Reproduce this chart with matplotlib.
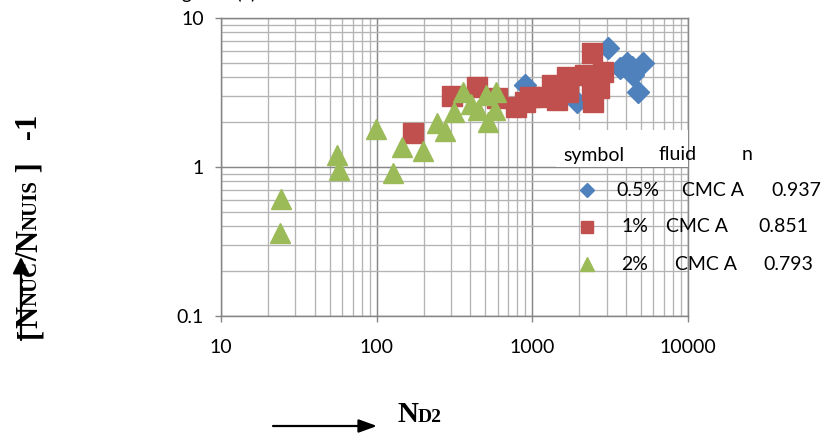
import matplotlib
matplotlib.use("Agg")
import matplotlib.pyplot as plt
from matplotlib.lines import Line2D
from matplotlib.patches import FancyArrowPatch, Rectangle
from matplotlib.ticker import FixedLocator, FixedFormatter, LogLocator, NullFormatter

# ---------------- data ----------------
blue_x = [896, 1926, 3075, 3655, 4035, 4345, 4450, 5157, 4790]
blue_y = [3.55, 2.74, 6.26, 4.6, 4.97, 4.71, 4.14, 4.97, 3.2]

red_x = [172, 303, 439, 593, 785, 896, 962, 1175, 1330, 1432, 1660, 1700,
         2177, 2404, 2404, 2460, 2852, 2700]
red_y = [1.70, 3.01, 3.43, 2.89, 2.54, 2.74, 2.97, 2.96, 3.55, 2.82, 4.04, 3.2,
         4.14, 5.79, 3.29, 2.74, 4.36, 3.37]

green_x = [24.3, 24.0, 55.8, 56.9, 99.6, 126.7, 145, 197, 244, 275, 315, 358,
           405, 450, 504, 521, 581, 573]
green_y = [0.61, 0.36, 1.20, 0.955, 1.80, 0.91, 1.36, 1.29, 1.98, 1.75, 2.33, 3.20,
           2.63, 2.41, 3.04, 2.01, 3.20, 2.41]

x_ticks = [10, 100, 1000, 10000]
x_tick_labels = ["10", "100", "1000", "10000"]
y_ticks = [0.1, 1, 10]
y_tick_labels = ["0.1", "1", "10"]

legend_header = ["symbol", "fluid", "n"]
legend_conc = ["0.5%", "1%", "2%"]
legend_fluid = ["CMC A", "CMC A", "CMC A"]
legend_n = ["0.937", "0.851", "0.793"]

BLUE = "#4F81BD"
RED = "#C0504D"
GREEN = "#9BBB59"

W, H = 823, 434
fig = plt.figure(figsize=(W / 100, H / 100), dpi=100)


def fx(px):
    return px / W


def fy(py):
    return 1 - py / H


ax = fig.add_axes([fx(221), fy(316), fx(688) - fx(221), fy(18) - fy(316)])
ax.set_xscale("log")
ax.set_yscale("log")
ax.set_xlim(10, 10000)
ax.set_ylim(0.1, 10)

ax.xaxis.set_major_locator(FixedLocator(x_ticks))
ax.xaxis.set_major_formatter(FixedFormatter(x_tick_labels))
ax.yaxis.set_major_locator(FixedLocator(y_ticks))
ax.yaxis.set_major_formatter(FixedFormatter(y_tick_labels))
ax.xaxis.set_minor_locator(LogLocator(base=10, subs=range(2, 10), numticks=20))
ax.yaxis.set_minor_locator(LogLocator(base=10, subs=range(2, 10), numticks=20))
ax.xaxis.set_minor_formatter(NullFormatter())
ax.yaxis.set_minor_formatter(NullFormatter())

ax.grid(True, which="major", color="#868686", lw=1.05)
ax.grid(True, which="minor", color="#b4b4b4", lw=0.95)
ax.set_axisbelow(True)
for s in ax.spines.values():
    s.set_color("#868686")
    s.set_linewidth(1.05)
ax.tick_params(axis="both", which="major", direction="out", length=4.3, width=1.0,
               color="#868686", labelsize=14)
ax.tick_params(axis="x", which="major", pad=12)
ax.tick_params(axis="y", which="major", pad=8)
ax.tick_params(axis="both", which="minor", length=0)
for lab in ax.get_xticklabels() + ax.get_yticklabels():
    lab.set_fontfamily("Lato")

ax.plot(blue_x, blue_y, ls="none", marker="D", ms=11.5, color=BLUE, mec=BLUE, zorder=3)
ax.plot(red_x, red_y, ls="none", marker="s", ms=14.0, color=RED, mec=RED, zorder=4)
ax.plot(green_x, green_y, ls="none", marker="^", ms=14.5, color=GREEN, mec=GREEN, zorder=5)

# ---------------- legend table ----------------
fig.add_artist(Rectangle((fx(556), fy(167)), fx(688) - fx(556), fy(130) - fy(167),
                         transform=fig.transFigure, facecolor="white", edgecolor="none",
                         zorder=2))
tfont = dict(family="Lato", fontsize=14, ha="center", va="center", zorder=6)
for txt, px in zip(legend_header, [594, 678, 747]):
    fig.text(fx(px), fy(155), txt, **tfont)

row_y = [190, 227, 264]
conc_x = [638, 635, 635]
fluid_x = [713, 697, 706]
n_x = [796, 783, 788]
markers = [("D", 7.0, BLUE), ("s", 9.0, RED), ("^", 9.5, GREEN)]
for i in range(3):
    m, ms, c = markers[i]
    fig.add_artist(Line2D([fx(587)], [fy(row_y[i])], transform=fig.transFigure,
                          marker=m, ms=ms, color=c, mec=c, ls="none", zorder=6))
    fig.text(fx(conc_x[i]), fy(row_y[i]), legend_conc[i], **tfont)
    fig.text(fx(fluid_x[i]), fy(row_y[i]), legend_fluid[i], **tfont)
    fig.text(fx(n_x[i]), fy(row_y[i]), legend_n[i], **tfont)

# ---------------- top clipped caption (cut off in the reference too) ----------------
fig.text(fx(166), 1 + 1 / H, "Figure 4(c)", family="Lato", fontsize=14,
         ha="left", va="baseline")

# ---------------- axis labels (Times bold) ----------------
serif = "Liberation Serif"
fig.canvas.draw()
renderer = fig.canvas.get_renderer()

# y label built bottom-to-top
ypieces = [("[", 22), ("N", 22), ("NUC", 15), ("/", 22), ("N", 22), ("NUIS", 15),
           (" ]", 22), ("   -1", 22)]
cur = H - 338  # display y (pixels from bottom)
for s, size in ypieces:
    t = fig.text(fx(37), cur / H, s, family=serif, weight="bold", fontsize=size,
                 rotation=90, rotation_mode="anchor", ha="left", va="baseline")
    bb = t.get_window_extent(renderer)
    cur = bb.y1

# x label
cur = 397
for s, size in [("N", 21), ("D2", 14)]:
    t = fig.text(cur / W, fy(422), s, family=serif, weight="bold", fontsize=size,
                 ha="left", va="baseline")
    bb = t.get_window_extent(renderer)
    cur = bb.x1

# arrows
fig.add_artist(FancyArrowPatch((fx(273), fy(426)), (fx(377), fy(426)),
                               transform=fig.transFigure,
                               arrowstyle="-|>,head_length=0.55,head_width=0.2",
                               mutation_scale=20, color="black", lw=1.6,
                               shrinkA=0, shrinkB=0))
fig.add_artist(FancyArrowPatch((fx(21), fy(340)), (fx(21), fy(257)),
                               transform=fig.transFigure,
                               arrowstyle="-|>,head_length=0.5,head_width=0.25",
                               mutation_scale=20, color="black", lw=1.6,
                               shrinkA=0, shrinkB=0))

fig.savefig("out.png", dpi=100)
